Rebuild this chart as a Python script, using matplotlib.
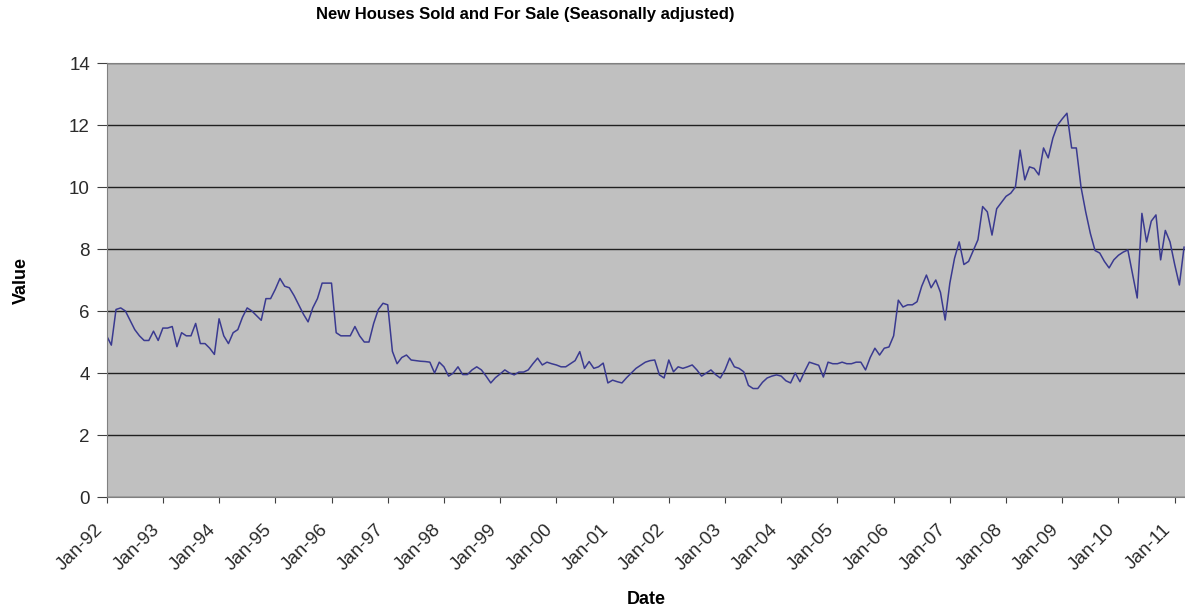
import matplotlib.pyplot as plt
import numpy as np

# months' supply, monthly from Jan 1992
supply = [
    5.2, 4.9, 6.05, 6.1, 6.0, 5.7, 5.4, 5.2, 5.05, 5.05, 5.35, 5.05,      # 1992
    5.45, 5.45, 5.5, 4.85, 5.3, 5.2, 5.2, 5.6, 4.95, 4.95, 4.8, 4.6,      # 1993
    5.75, 5.2, 4.95, 5.3, 5.4, 5.8, 6.1, 6.0, 5.85, 5.7, 6.4, 6.4,        # 1994
    6.7, 7.05, 6.8, 6.75, 6.5, 6.2, 5.9, 5.65, 6.1, 6.4, 6.9, 6.9,        # 1995
    6.9, 5.3, 5.2, 5.2, 5.2, 5.5, 5.2, 5.0, 5.0, 5.6, 6.05, 6.25,         # 1996
    6.2, 4.7, 4.3, 4.5, 4.58, 4.42, 4.4, 4.38, 4.37, 4.35, 4.0, 4.35,     # 1997
    4.2, 3.9, 4.0, 4.2, 3.95, 3.95, 4.1, 4.2, 4.1, 3.9, 3.68,
    3.85, 3.97, 4.1, 4.0, 3.94, 4.03, 4.03, 4.1, 4.3, 4.48, 4.26, 4.35,
    4.3, 4.26, 4.2, 4.2, 4.3, 4.4, 4.69, 4.15, 4.37, 4.15, 4.2, 4.32,
    3.68, 3.77, 3.72, 3.68, 3.85, 4.0, 4.15, 4.25, 4.35, 4.4, 4.42, 3.94,
    3.84, 4.42, 4.04, 4.2, 4.15, 4.2, 4.26, 4.1, 3.9, 4.0, 4.1, 3.95,
    3.84, 4.1, 4.48, 4.2, 4.15, 4.04, 3.6, 3.5, 3.5, 3.7, 3.84, 3.9,
    3.94, 3.9, 3.75, 3.68, 4.0, 3.72, 4.05, 4.35, 4.3, 4.25, 3.87, 4.35,
    4.3, 4.3, 4.35, 4.3, 4.3, 4.35, 4.35, 4.1, 4.5, 4.8, 4.58, 4.8,
    4.84, 5.2, 6.35, 6.13, 6.2, 6.2, 6.3, 6.8, 7.16, 6.75, 7.0, 6.6,
    5.71, 6.9, 7.7, 8.23, 7.5, 7.6, 7.95, 8.3, 9.37, 9.2, 8.45, 9.3,
    9.5, 9.7, 9.8, 10.0, 11.19, 10.23, 10.65, 10.6, 10.39, 11.26, 10.94, 11.58,
    12.0, 12.2, 12.38, 11.26, 11.26, 10.0, 9.2, 8.5, 7.95, 7.87, 7.6, 7.39,
    7.65, 7.8, 7.9, 7.97, 7.2, 6.42, 9.15, 8.23, 8.9, 9.1, 7.65, 8.6,
    8.23, 7.5, 6.84, 8.06,
]
tick_labels = ["Jan-%02d" % (y % 100) for y in range(1992, 2012)]

plt.rcParams['font.family'] = ['Liberation Sans', 'DejaVu Sans']

fig = plt.figure(figsize=(11.85, 6.13), dpi=100)
ax = fig.add_axes([0.09, 0.1892, 0.91, 0.708])
ax.set_facecolor('#c0c0c0')

months = np.arange(len(supply))
ax.plot(months, supply, color='#3a3a90', lw=1.1)

ax.set_xlim(0, 230.2)
ax.set_ylim(0, 14)
ax.set_yticks(range(0, 15, 2))
ax.set_xticks(np.arange(len(tick_labels)) * 12)
# anchoring on the bottom-right corner sets the slanted labels a bit left of each tick
ax.set_xticklabels(tick_labels, rotation=45, ha='right', va='bottom',
                   rotation_mode='anchor')
ax.yaxis.grid(True, color='#202020', lw=1.0)
ax.set_axisbelow(True)

for s in ['left', 'bottom', 'top']:
    ax.spines[s].set_color('#808080')
ax.spines['right'].set_visible(False)
ax.tick_params(axis='both', direction='out', color='#404040',
               labelsize=13.5, labelcolor='#2a2a2a')
ax.tick_params(axis='x', length=4, pad=22)
ax.tick_params(axis='y', length=7, pad=5)

ax.set_ylabel('Value', fontsize=13, fontweight='bold', labelpad=28)
ax.set_xlabel('Date', fontsize=13, fontweight='bold', labelpad=12)
fig.text(0.443, 0.977, 'New Houses Sold and For Sale (Seasonally adjusted)',
         ha='center', va='center', fontsize=12, fontweight='bold')

fig.savefig('out.png', dpi=100)
